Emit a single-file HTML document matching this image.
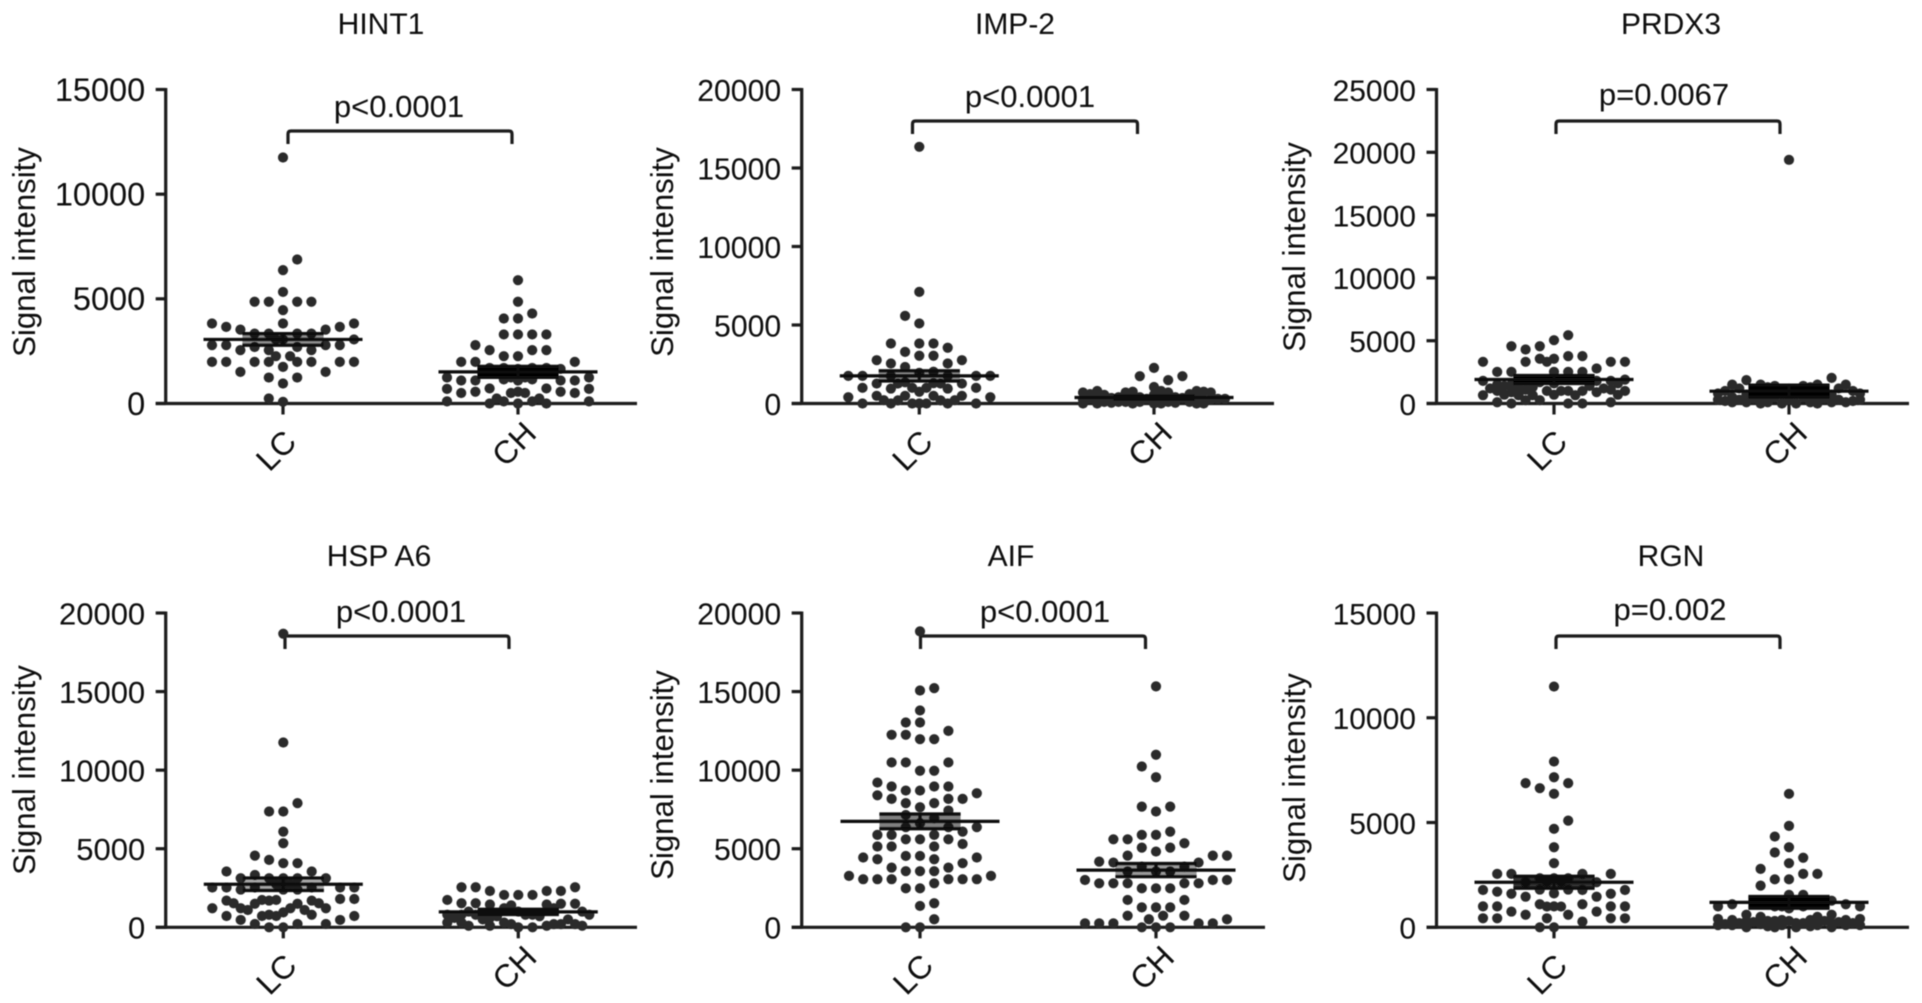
<!DOCTYPE html>
<html lang="en">
<head>
<meta charset="utf-8">
<title>Signal intensity in LC and CH groups</title>
<style>
html,body{margin:0;padding:0;background:#fff;width:1922px;height:1003px;overflow:hidden}
svg{display:block;font-family:"Liberation Sans",Arial,sans-serif}
text{fill:#080808}
.title{font-size:30px;text-anchor:middle}
.pv{font-size:31px;text-anchor:middle}
.yl{font-size:31.2px;text-anchor:middle}
.br{fill:none;stroke:#1a1a1a;stroke-width:3.2}
</style>
</head>
<body>
<svg id="figure" width="1922" height="1003" viewBox="0 0 1922 1003" xmlns="http://www.w3.org/2000/svg">
<defs><filter id="soft" filterUnits="userSpaceOnUse" x="0" y="0" width="1922" height="1003"><feGaussianBlur stdDeviation="0.55"/></filter></defs>
<rect width="1922" height="1003" fill="#fff"/>
<g filter="url(#soft)">
<g id="hint1">
<text class="title" x="381" y="34">HINT1</text>
<text class="yl" transform="translate(35 252) rotate(-90)">Signal intensity</text>
<text class="pv" x="399" y="117">p&lt;0.0001</text>
<path class="br" d="M288 144V134Q288 131 291 131H509Q512 131 512 134V144"/>
</g>
<g id="imp2">
<text class="title" x="1015" y="34">IMP-2</text>
<text class="yl" transform="translate(673 252) rotate(-90)">Signal intensity</text>
<text class="pv" x="1030" y="107">p&lt;0.0001</text>
<path class="br" d="M912.5 134V124Q912.5 121 915.5 121H1134.5Q1137.5 121 1137.5 124V134"/>
</g>
<g id="prdx3">
<text class="title" x="1671" y="34">PRDX3</text>
<text class="yl" transform="translate(1305 247) rotate(-90)">Signal intensity</text>
<text class="pv" x="1664" y="105">p=0.0067</text>
<path class="br" d="M1556 134V124Q1556 121 1559 121H1777Q1780 121 1780 124V134"/>
</g>
<g id="hspa6">
<text class="title" x="379" y="566">HSP A6</text>
<text class="yl" transform="translate(35 770) rotate(-90)">Signal intensity</text>
<text class="pv" x="401" y="622">p&lt;0.0001</text>
<path class="br" d="M285 649V636H506Q509 636 509 639V649"/>
</g>
<g id="aif">
<text class="title" x="1011" y="566">AIF</text>
<text class="yl" transform="translate(673 775) rotate(-90)">Signal intensity</text>
<text class="pv" x="1045" y="622">p&lt;0.0001</text>
<path class="br" d="M920.5 649V636H1142.5Q1145.5 636 1145.5 639V649"/>
</g>
<g id="rgn">
<text class="title" x="1671" y="566">RGN</text>
<text class="yl" transform="translate(1305 778) rotate(-90)">Signal intensity</text>
<text class="pv" x="1670" y="620">p=0.002</text>
<path class="br" d="M1556 649V639Q1556 636 1559 636H1777Q1780 636 1780 639V649"/>
</g>
</g>
</svg>
<script>
const categories = ['LC', 'CH'];

const hint1Ticks = [0, 5000, 10000, 15000];
const imp2Ticks = [0, 5000, 10000, 15000, 20000];
const prdx3Ticks = [0, 5000, 10000, 15000, 20000, 25000];
const hspa6Ticks = [0, 5000, 10000, 15000, 20000];
const aifTicks = [0, 5000, 10000, 15000, 20000];
const rgnTicks = [0, 5000, 10000, 15000];

const hint1Lc = [11750,6370,5330,4460,3820,3060,2550,1750,955,80,
  6880,240,4860,4860,3340,3340,2700,2700,1990,1990,1240,1240,
  4860,4860,3340,3340,2550,2550,1990,1990,1510,1510,
  3530,3530,2790,2790,1990,1990,
  3660,3660,2790,2790,1990,1990,
  3820,3820,3060,3060,2260,2260];
const hint1Ch = [5890,4860,4060,3300,2260,1650,1100,560,0,
  4060,4300,3300,3300,2260,2550,1700,1700,1150,1150,720,720,100,100,
  2550,3300,1700,2550,1100,1700,560,1100,0,560,
  2790,1650,1990,1100,1100,500,500,0,
  1990,1990,1240,1240,700,700,100,100,
  1240,1240,500,500,240,240];
const hint1Mean = [3060, 1510];
const hint1Sem = [280, 262];

const imp2Lc = [16350,7110,5100,3040,1950,1350,750,0,
  3040,5580,2330,3290,1300,2020,950,950,490,490,0,0,
  3550,3820,2550,2550,1760,1760,1270,1270,490,490,0,0,
  3820,3820,2760,2760,1760,1760,1000,1000,400,400,0,0,
  1760,1760,1000,1000,200,200,
  1270,1270,210,210];
const imp2Ch = [2270,1050,400,0,
  1490,1740,700,700,350,350,0,0,
  1740,800,700,700,300,300,0,0,
  800,800,400,400,100,100,
  750,750,300,300,0,0,
  550,550,100,100,
  600,600,250,250,500,500,100,100,350,350,50,50];
const imp2Mean = [1760, 380];
const imp2Sem = [330, 100];

const prdx3Lc = [5040,3560,2520,1700,700,0,
  3560,5440,2520,3770,1800,2520,1000,1800,265,1000,265,
  3770,4300,2520,2520,1800,1800,900,900,0,0,
  4560,4560,3320,2790,1900,1900,1000,1000,100,100,
  3320,3320,1900,1900,1000,1000,660,660,
  3320,3320,1900,1900,660,660,
  1400,1400,1200,1200,1600,1600,1300,1300,700,700,1100,1100,1500,1500];
const prdx3Ch = [19400,1200,300,
  1400,1400,500,500,0,0,
  1500,1500,700,700,100,100,
  1500,1500,800,800,0,0,
  1860,2040,900,900,100,100,
  900,900,300,300,
  1300,1300,1000,1000,600,600,200,200,1200,1200,400,400,
  500,500,300,300,100,100];
const prdx3Mean = [1910, 980];
const prdx3Sem = [320, 480];

const hspa6Lc = [18680,11760,7370,5350,4080,3120,2400,1700,950,0,
  7900,7370,6090,4080,4290,3120,3120,2530,2530,1500,1500,800,800,210,0,
  3120,4560,2400,3120,1700,2400,1210,1700,210,1210,210,
  3330,3550,2530,2530,1800,1800,1210,1210,470,470,
  3550,2530,2530,1740,1740,1100,1100,720,720,
  2740,2740,1530,1530,720,720];
const hspa6Ch = [2060,1000,300,
  2060,2060,1450,1450,800,800,0,0,
  2310,2310,1500,1500,800,800,100,100,
  2550,2310,1530,1530,800,800,200,200,
  2550,2550,1740,1400,700,700,200,200,
  1210,1210,500,500,100,100,
  1000,1000,600,600,300,300];
const hspa6Mean = [2740, 980];
const hspa6Sem = [400, 170];

const aifLc = [18830,15070,13030,11970,9960,8700,7640,6620,5600,4540,3570,2480,1360,0,
  13030,15220,12250,13800,9960,11970,8960,10490,7900,8700,6940,7900,5140,5600,3570,4540,2800,3570,1530,2480,510,0,
  12500,12250,10490,10490,8960,8960,8170,8170,7430,7150,5600,5880,5140,5140,3800,3800,3060,3060,
  8170,9210,5880,8400,4080,5880,3060,5300,4330,3060,
  8530,6370,6090,4440,4330,3060,3060,
  6370,6370,4440,3270,3270];
const aifCh = [15330,10980,9550,7370,5880,4820,3550,2480,1270,0,
  10230,6090,7680,7680,5880,5070,3860,3550,3550,2480,2480,1270,1270,740,740,0,0,
  5350,5070,3860,4120,2800,2800,1740,1740,250,250,
  5600,5600,4120,4180,2800,2800,250,250,
  4560,4560,3010,2800,510,250,
  4560,3010,3010,510,740];
const aifMean = [6740, 3640];
const aifSem = [470, 420];

const rgnLc = [11490,7910,7160,6370,4700,3820,3060,2340,1620,1000,0,
  6640,6880,2340,5090,1800,2340,1100,1800,600,1100,0,600,
  6880,2550,2150,2150,1460,1460,750,750,270,430,
  2550,2550,1600,1600,1000,1000,430,430,
  2550,1780,1700,1000,1000,430,430,
  1780,1780,990,990,2165,2165];
const rgnCh = [6370,4840,3820,3060,2290,1550,900,300,
  4330,3320,3570,2550,2290,1550,1990,1000,1000,500,500,200,0,0,
  2790,2550,1200,1200,600,600,100,100,
  1100,1100,400,400,0,0,
  1000,1000,350,350,
  1000,1270,300,300,
  250,250,200,200,150,150,100,100,
  300,300,100,100,200,200,350,350,50,50,150,150];
const rgnMean = [2150, 1190];
const rgnSem = [290, 280];

const panelData = {
  hint1: {ticks: hint1Ticks, series: [hint1Lc, hint1Ch], means: hint1Mean, sems: hint1Sem},
  imp2: {ticks: imp2Ticks, series: [imp2Lc, imp2Ch], means: imp2Mean, sems: imp2Sem},
  prdx3: {ticks: prdx3Ticks, series: [prdx3Lc, prdx3Ch], means: prdx3Mean, sems: prdx3Sem},
  hspa6: {ticks: hspa6Ticks, series: [hspa6Lc, hspa6Ch], means: hspa6Mean, sems: hspa6Sem},
  aif: {ticks: aifTicks, series: [aifLc, aifCh], means: aifMean, sems: aifSem},
  rgn: {ticks: rgnTicks, series: [rgnLc, rgnCh], means: rgnMean, sems: rgnSem}
};

const frames = {
  hint1: {axisX: 165.7, endX: 637, top: 89.5, base: 403.5, catX: [283, 518], band: [0.45, 1], tickFont: 32.5},
  imp2: {axisX: 801.7, endX: 1274, top: 89.5, base: 403.5, catX: [919.3, 1154], band: [0.45, 0.95], tickFont: 30.2},
  prdx3: {axisX: 1436.5, endX: 1909, top: 89.5, base: 403.5, catX: [1554, 1789], band: [1, 1], tickFont: 30},
  hspa6: {axisX: 165.7, endX: 637, top: 613, base: 927.3, catX: [283.3, 518.3], band: [0.35, 1], tickFont: 31},
  aif: {axisX: 801.7, endX: 1265, top: 613, base: 927.3, catX: [920, 1156], band: [0.5, 0.4], tickFont: 30.2},
  rgn: {axisX: 1436.5, endX: 1909, top: 613, base: 927.3, catX: [1554, 1789], band: [0.8, 1], tickFont: 30}
};

const NS = 'http://www.w3.org/2000/svg';
const COL_STEP = 14.2;
const MIN_GAP = 11.2;
const MAX_COL = 5;
const DOT_R = 5.1;

function make(tag, attrs, parent) {
  const el = document.createElementNS(NS, tag);
  for (const k in attrs) el.setAttribute(k, attrs[k]);
  parent.appendChild(el);
  return el;
}

function swarm(values, cx, scaleY) {
  const placed = [];
  let side = -1;
  const clashes = (col, y) => placed.some(p => p.col === col && Math.abs(p.y - y) < MIN_GAP);
  for (const v of values) {
    const y = scaleY(v);
    let col = null;
    if (!clashes(0, y)) col = 0;
    for (let k = 1; col === null && k <= MAX_COL; k++) {
      if (!clashes(side * k, y)) col = side * k;
      else if (!clashes(-side * k, y)) col = -side * k;
    }
    for (let k = 0.5; col === null && k < MAX_COL; k += 1) {
      if (!clashes(side * k, y)) col = side * k;
      else if (!clashes(-side * k, y)) col = -side * k;
    }
    if (col === null) {
      let best = -1;
      for (let c = -MAX_COL; c <= MAX_COL; c += 0.5) {
        let near = Infinity;
        for (const p of placed) if (p.col === c) near = Math.min(near, Math.abs(p.y - y));
        if (near > best) { best = near; col = c; }
      }
    }
    placed.push({col, y});
    if (col !== 0) side = -side;
  }
  return placed.map(p => ({x: cx + p.col * COL_STEP, y: p.y}));
}

function drawPanel(id) {
  const data = panelData[id];
  const frame = frames[id];
  const root = document.getElementById(id);
  const yMax = data.ticks[data.ticks.length - 1];
  const yScale = v => frame.base - (v / yMax) * (frame.base - frame.top);
  const lineStyle = {stroke: '#1a1a1a', 'stroke-width': 3.2};

  const yAxis = make('line', Object.assign({x1: frame.axisX, x2: frame.axisX, y1: yScale(yMax) - 1.5, y2: frame.base + 1.5}, lineStyle), root);
  
  

  const xAxis = make('line', Object.assign({x1: frame.axisX - 10, x2: frame.endX, y1: frame.base, y2: frame.base}, lineStyle), root);
  
  

  data.ticks.forEach(t => {
    const y = yScale(t);
    const tick = make('line', Object.assign({x1: frame.axisX - 10, x2: frame.axisX, y1: y, y2: y}, lineStyle), root);
    
    
    const label = make('text', {x: frame.axisX - 20.5, y: y + 11.3, 'text-anchor': 'end', 'font-size': frame.tickFont}, root);
    label.textContent = String(t);
    
    
  });

  categories.forEach((cat, i) => {
    const cx = frame.catX[i];
    const tick = make('line', Object.assign({x1: cx, x2: cx, y1: frame.base, y2: frame.base + 11}, lineStyle), root);
    
    

    const lx = cx - (i === 0 ? 7 : 4);
    const ly = frame.base + (i === 0 ? 47 : 40.5);
    const label = make('text', {x: lx, y: ly, 'text-anchor': 'middle', 'dominant-baseline': 'central', 'font-size': 32, transform: 'rotate(-45 ' + lx + ' ' + ly + ')'}, root);
    label.textContent = cat;
    
    

    swarm(data.series[i], cx, yScale).forEach(p => {
      const dot = make('circle', {cx: p.x, cy: p.y, r: DOT_R, fill: '#2a2a2a'}, root);
      
      
    });

    const mean = data.means[i];
    const sem = data.sems[i];

    const band = make('rect', {x: cx - 40.6, width: 81.2, y: yScale(mean + sem), height: yScale(mean - sem) - yScale(mean + sem), fill: '#000', 'fill-opacity': frame.band[i]}, root);
    
    

    const meanLine = make('line', Object.assign({x1: cx - 79.5, x2: cx + 79.5, y1: yScale(mean), y2: yScale(mean)}, lineStyle, {stroke: '#0c0c0c'}), root);
    
    

    [mean + sem, mean - sem].forEach(v => {
      const cap = make('line', Object.assign({x1: cx - 40.6, x2: cx + 40.6, y1: yScale(v), y2: yScale(v)}, lineStyle, {stroke: '#0c0c0c'}), root);
      
      
    });

    const whisker = make('line', Object.assign({x1: cx, x2: cx, y1: yScale(mean + sem), y2: yScale(mean - sem)}, lineStyle, {stroke: '#0c0c0c'}), root);
    
    
  });
}

Object.keys(panelData).forEach(drawPanel);
</script>
</body>
</html>
